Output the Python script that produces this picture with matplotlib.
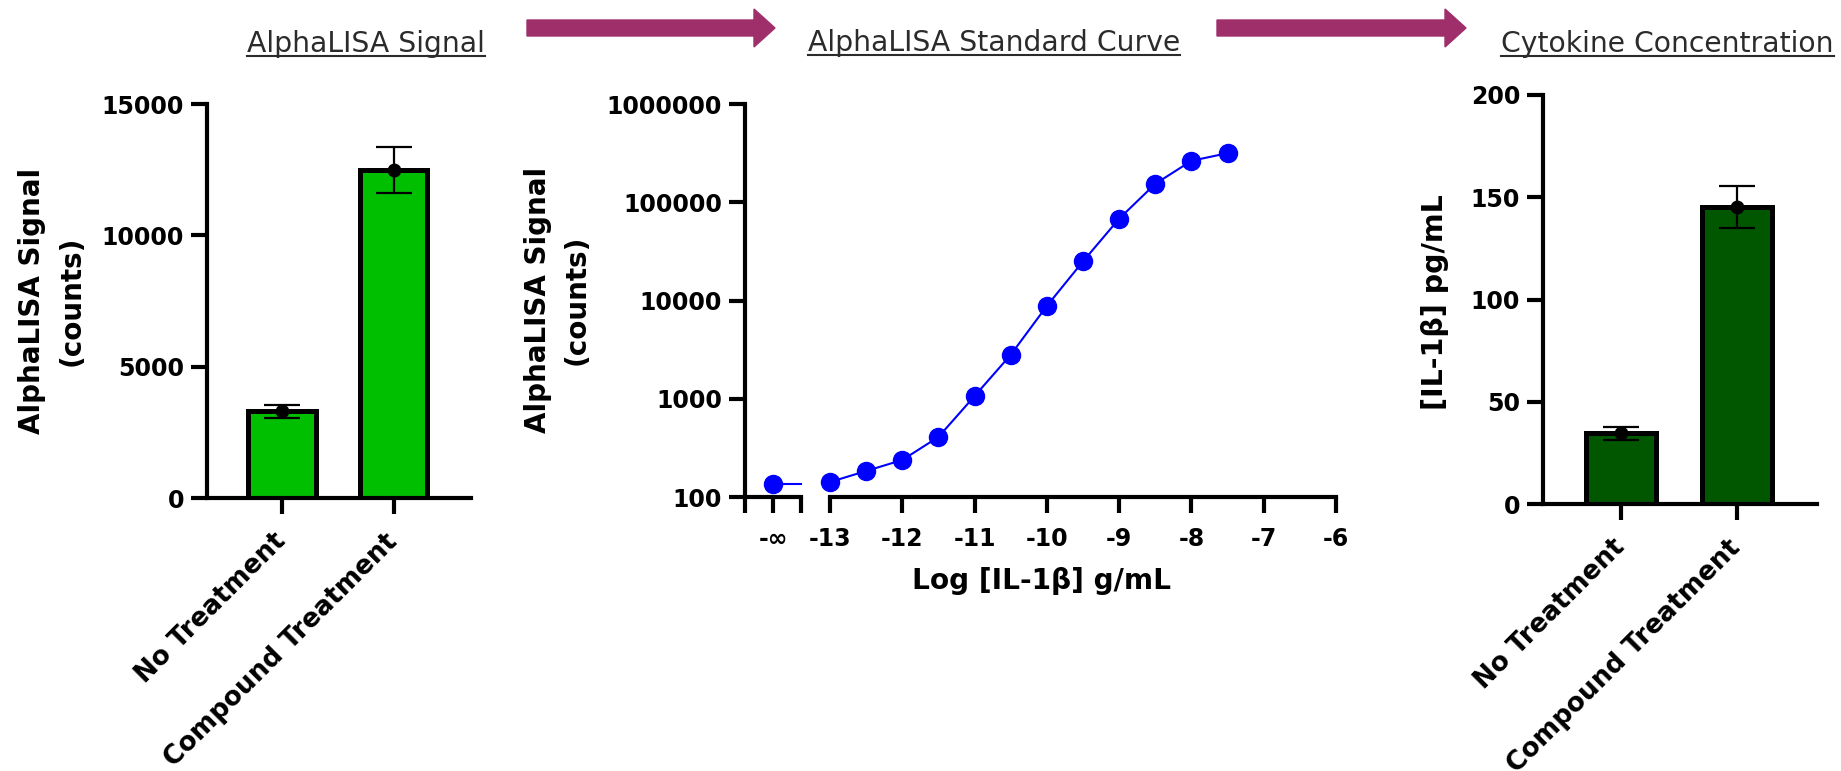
import matplotlib
matplotlib.use('Agg')
import matplotlib.pyplot as plt
import numpy as np
from matplotlib.patches import FancyArrow
from matplotlib.lines import Line2D
from matplotlib.ticker import NullLocator

# data
groups = ['No Treatment', 'Compound Treatment']
signal_mean = [3300, 12480]
signal_sd = [240, 880]
conc_mean = [34.5, 145.3]
conc_sd = [3.3, 10.2]

std_log_conc = [-13, -12.5, -12, -11.5, -11, -10.5, -10, -9.5, -9, -8.5, -8, -7.5]
std_signal = [142, 184, 238, 408, 1065, 2800, 8800, 25000, 68000, 154000, 264000, 316000]
blank_signal = 135
log_ticks = [-13, -12, -11, -10, -9, -8, -7, -6]
signal_ticks = [100, 1000, 10000, 100000, 1000000]

W, H = 1841, 771
plt.rcParams['font.family'] = ['DejaVu Sans']
plt.rcParams['font.weight'] = 'bold'
plt.rcParams['axes.linewidth'] = 3

fig = plt.figure(figsize=(W / 100, H / 100), dpi=100)


def box(l, t, r, b):
    # pixel box (from top-left) -> figure fraction
    return [l / W, 1 - b / H, (r - l) / W, (b - t) / H]


def style(ax):
    ax.spines['top'].set_visible(False)
    ax.spines['right'].set_visible(False)
    ax.tick_params(length=11.5, width=3, labelsize=17, pad=5)


def bar_panel(ax, means, sds, color, ymax, step):
    style(ax)
    x = np.arange(len(groups))
    ax.bar(x, means, width=0.6, color=color, edgecolor='black', linewidth=3.6, zorder=2)
    ax.errorbar(x, means, yerr=sds, fmt='none', ecolor='black', elinewidth=1.6,
                capsize=13, capthick=1.6, zorder=3)
    ax.plot(x, means, 'o', color='black', ms=9, zorder=4)
    ax.set_xlim(-0.67, 1.69)
    ax.set_ylim(0, ymax)
    ax.set_yticks(np.arange(0, ymax + 1, step))
    ax.set_xticks(x)
    ax.set_xticklabels(groups, rotation=45, ha='right', va='center',
                       rotation_mode='anchor', fontsize=18.8)
    ax.tick_params(axis='x', pad=17)


# left: raw signal
ax_l = fig.add_axes(box(207, 104, 471, 498))
bar_panel(ax_l, signal_mean, signal_sd, '#00BE00', 15000, 5000)

# right: concentration
ax_r = fig.add_axes(box(1543, 95, 1817, 504))
bar_panel(ax_r, conc_mean, conc_sd, '#005700', 200, 50)

# middle: standard curve with broken x axis
ax_b = fig.add_axes(box(745, 104, 801, 497))
ax_s = fig.add_axes(box(830, 104, 1336, 497))
for ax in (ax_b, ax_s):
    ax.set_yscale('log')
    ax.set_ylim(100, 1e6)
    ax.yaxis.set_minor_locator(NullLocator())
    ax.xaxis.set_minor_locator(NullLocator())
    style(ax)
    ax.tick_params(axis='x', pad=10)

ax_b.set_xlim(0, 1)
ax_b.set_xticks([0, 0.5, 1])
ax_b.set_xticklabels(['', '-\u221e', ''])
ax_b.set_yticks(signal_ticks)
ax_b.set_yticklabels([str(v) for v in signal_ticks])
ax_b.plot([0.5, 1.0], [blank_signal, blank_signal], color='blue', lw=1.5, clip_on=False)
ax_b.plot([0.5], [blank_signal], 'o', color='blue', ms=13, clip_on=False, zorder=5)

ax_s.spines['left'].set_visible(False)
ax_s.tick_params(left=False, labelleft=False)
ax_s.set_xlim(-13, -6)
ax_s.set_xticks(log_ticks)
ax_s.set_xticklabels([str(v) for v in log_ticks])
ax_s.plot(std_log_conc, std_signal, '-', color='blue', lw=1.5, clip_on=False)
ax_s.plot(std_log_conc, std_signal, 'o', color='blue', ms=13, clip_on=False, zorder=5)

# axis labels
fig.text(52 / W, 1 - 301 / H, 'AlphaLISA Signal\n(counts)', rotation=90, ha='center',
         va='center', fontsize=20, linespacing=1.5, multialignment='center')
fig.text(557 / W, 1 - 300 / H, 'AlphaLISA Signal\n(counts)', rotation=90, ha='center',
         va='center', fontsize=20, linespacing=1.5, multialignment='center')
fig.text(1435 / W, 1 - 302 / H, '[IL-1\u03b2] pg/mL', rotation=90, ha='center',
         va='center', fontsize=20.5)
fig.text(1041 / W, 1 - 581 / H, 'Log [IL-1\u03b2] g/mL', ha='center', va='center', fontsize=20.2)

# underlined titles
titles = [('AlphaLISA Signal', 366, 52, 'center'),
          ('AlphaLISA Standard Curve', 994, 51, 'center'),
          ('Cytokine Concentration', 1501, 52, 'left')]
title_objs = []
for txt, x, y, ha in titles:
    t = fig.text(x / W, 1 - y / H, txt, ha=ha, va='baseline', fontsize=20.3,
                 fontweight='normal', color='#2b2b2b')
    title_objs.append((t, y))
fig.canvas.draw()
r = fig.canvas.get_renderer()
for t, y in title_objs:
    bb = t.get_window_extent(r)
    uy = 1 - (y + 4) / H
    fig.add_artist(Line2D([bb.x0 / W, bb.x1 / W], [uy, uy], color='#2b2b2b', lw=1.5))

# arrows between panels
for x0, x1 in [(527, 775), (1217, 1466)]:
    arr = FancyArrow(x0 / W, 1 - 28 / H, (x1 - x0) / W, 0, width=16 / H,
                     head_width=38 / H, head_length=21 / W, length_includes_head=True,
                     color='#9E2F6B', transform=fig.transFigure)
    fig.add_artist(arr)

fig.savefig('out.png', dpi=100)
